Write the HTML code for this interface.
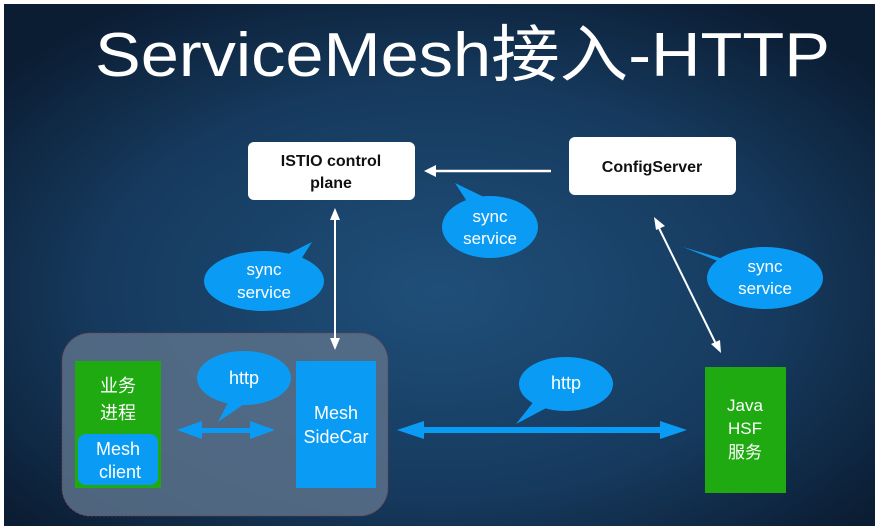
<!DOCTYPE html>
<html><head><meta charset="utf-8"><style>
html,body{margin:0;padding:0;background:#fff}
svg{display:block}
text{font-family:"Liberation Sans","Noto Sans CJK SC",sans-serif}
</style></head><body>
<svg width="881" height="531" viewBox="0 0 881 531" xmlns="http://www.w3.org/2000/svg">
<defs>
<radialGradient id="bg" cx="0.5" cy="0.55" r="0.65">
<stop offset="0" stop-color="#1f4f79"/>
<stop offset="0.6" stop-color="#163a5e"/>
<stop offset="1" stop-color="#0b1d33"/>
</radialGradient>
</defs>
<rect x="0" y="0" width="881" height="531" fill="#fff"/>
<rect x="4" y="4" width="871" height="522" fill="url(#bg)"/>
<text x="95" y="76" font-size="62" fill="#fff" textLength="735" lengthAdjust="spacingAndGlyphs">ServiceMesh接入-HTTP</text>

<!-- group -->
<rect x="62" y="333" width="326" height="183" rx="28" fill="#5b7189" fill-opacity="0.85" stroke="#7a3a4a" stroke-dasharray="2,2"/>

<!-- boxes top -->
<rect x="248" y="142" width="167" height="58" rx="6" fill="#fff"/>
<text x="331" y="166" font-size="16" font-weight="bold" text-anchor="middle" fill="#111">ISTIO control</text>
<text x="331" y="188" font-size="16" font-weight="bold" text-anchor="middle" fill="#111">plane</text>
<rect x="569" y="137" width="167" height="58" rx="6" fill="#fff"/>
<text x="652" y="172" font-size="16" font-weight="bold" text-anchor="middle" fill="#111">ConfigServer</text>

<!-- white arrows -->
<line x1="551" y1="171" x2="432" y2="171" stroke="#fff" stroke-width="2.5"/>
<polygon points="424,171 436,165 436,177" fill="#fff"/>
<line x1="335" y1="218" x2="335" y2="340" stroke="#fff" stroke-width="2"/>
<polygon points="335,208 330,220 340,220" fill="#fff"/>
<polygon points="335,350 330,338 340,338" fill="#fff"/>
<line x1="658" y1="226" x2="716" y2="344" stroke="#fff" stroke-width="2"/>
<polygon points="654,217 656,230 665,226" fill="#fff"/>
<polygon points="721,353 711,344 720,340" fill="#fff"/>

<!-- sync bubbles -->
<g fill="#0a9cf5">
<ellipse cx="490" cy="227" rx="48" ry="31"/><polygon points="455,183 470,206 490,200"/>
<ellipse cx="264" cy="281" rx="60" ry="30"/><polygon points="312,242 280,258 298,264"/>
<ellipse cx="765" cy="278" rx="58" ry="31"/><polygon points="683,247 720,258 735,268"/>
</g>
<g font-size="17" fill="#fff" text-anchor="middle">
<text x="490" y="222">sync</text><text x="490" y="244">service</text>
<text x="264" y="275">sync</text><text x="264" y="298">service</text>
<text x="765" y="272">sync</text><text x="765" y="294">service</text>
</g>

<rect x="75" y="361" width="86" height="127" fill="#1faa12"/>
<text x="118" y="392" font-size="18" fill="#fff" text-anchor="middle">业务</text>
<text x="118" y="419" font-size="18" fill="#fff" text-anchor="middle">进程</text>
<rect x="78" y="434" width="80" height="51" rx="8" fill="#0a9cf5"/>
<text x="118" y="455" font-size="18" fill="#fff" text-anchor="middle">Mesh</text>
<text x="120" y="478" font-size="18" fill="#fff" text-anchor="middle">client</text>
<rect x="296" y="361" width="80" height="127" fill="#0a9cf5"/>
<text x="336" y="419" font-size="18" fill="#fff" text-anchor="middle">Mesh</text>
<text x="336" y="443" font-size="18" fill="#fff" text-anchor="middle">SideCar</text>

<!-- blue arrows -->
<g fill="#0a9cf5">
<ellipse cx="244" cy="378" rx="47" ry="27"/><polygon points="218,422 232,395 250,400"/>
<rect x="195" y="428" width="62" height="5"/>
<polygon points="177,430 202,421 202,439"/><polygon points="275,430 250,421 250,439"/>
<ellipse cx="566" cy="384" rx="47" ry="27"/><polygon points="516,424 535,400 552,405"/>
<rect x="415" y="427" width="255" height="6"/>
<polygon points="397,430 424,421 424,439"/><polygon points="687,430 660,421 660,439"/>
</g>
<text x="244" y="384" font-size="18" fill="#fff" text-anchor="middle">http</text>
<text x="566" y="389" font-size="18" fill="#fff" text-anchor="middle">http</text>

<rect x="705" y="367" width="81" height="126" fill="#1faa12"/>
<text x="745" y="411" font-size="17" fill="#fff" text-anchor="middle">Java</text>
<text x="745" y="434" font-size="17" fill="#fff" text-anchor="middle">HSF</text>
<text x="745" y="458" font-size="17" fill="#fff" text-anchor="middle">服务</text>
</svg>
</body></html>
